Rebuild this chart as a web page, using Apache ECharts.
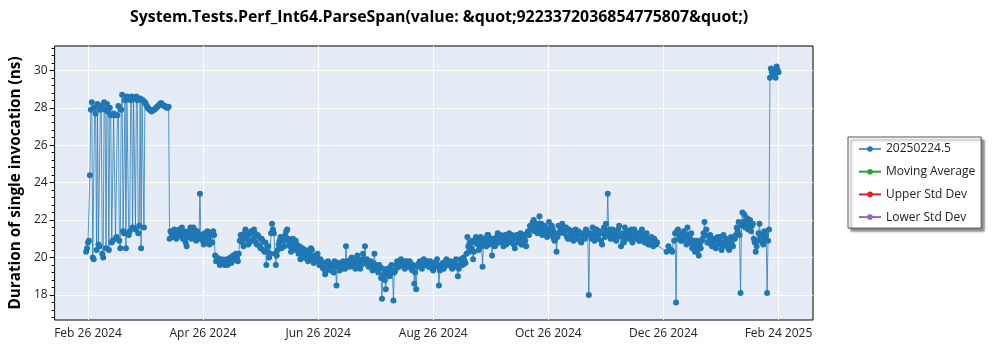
<!DOCTYPE html>
<html><head><meta charset="utf-8">
<script src="https://cdn.jsdelivr.net/npm/echarts@6/dist/echarts.min.js"></script>
<style>html,body{margin:0;padding:0;background:#fff}#c{width:1000px;height:350px}</style>
</head><body><div id="c"></div>
<script>
const titleText = 'System.Tests.Perf_Int64.ParseSpan(value: &quot;9223372036854775807&quot;)';
const yAxisTitle = 'Duration of single invocation (ns)';
const seriesNames = ['20250224.5', 'Moving Average', 'Upper Std Dev', 'Lower Std Dev'];
const seriesColors = ['#1f77b4', '#2ca02c', '#d62728', '#9467bd'];
// two runs per day; entry i of each list is the day 2024-02-25 + i (day -1 relative to Feb 26 2024)
const firstDayOffset = -1;
const durationsRunA = [
  20.3, 20.8, 24.4, 28.3, 19.9, 27.7, 28.2, 20.6, 28.1, 20.0, 27.9,
  28.2, 20.4, 27.6, 20.9, 27.6, 21.1, 28.1, 20.5, 28.7, 21.3,
  20.5, 28.5, 21.4, 28.6, 28.5, 21.5, 28.4, 21.7, 20.5, 28.4,
  28.3, 28.1, 27.95, 27.85, 27.85, 27.9, 28.0, 28.1, 28.2, 28.2, 28.1, 28.05, 28.0,
  21.0, 21.3, 21.2, 21.4, 21.1, 21.5, 21.3, 21.0, 21.2, 20.6, 21.4, 21.6, 21.2, 21.5, 20.9, 21.3, 23.4, 21.1, 20.7,
  20.8, 21.4, 20.7, 21.3, 21.4, 20.1,
  20.0, 19.9, 19.7, 19.8, 19.6, 19.9, 19.7, 20.0, 19.8, 20.1, 20.2, 19.8,
  20.9, 21.1, 20.6, 21.5, 21.2, 20.8, 21.4, 21.0, 21.3, 20.7, 21.1, 20.5, 20.9, 20.3,
  19.6, 20.6, 20.2, 21.8, 21.3, 19.6, 20.4, 20.9,
  20.5, 20.9, 21.2, 21.5, 20.8, 20.3, 21.0, 20.6,
  20.7, 20.2, 19.9, 20.5, 20.0, 20.3, 19.8, 20.1, 20.4, 19.7, 19.9, 20.2,
  19.6, 19.8, 19.4, 19.1, 19.5, 19.7, 19.3, 19.6, 19.8, 18.5, 19.5, 19.7, 19.4, 19.6,
  20.6, 19.8, 19.5, 20.0, 19.7, 19.4, 20.1, 19.8, 19.6, 20.2, 20.6, 19.9, 19.5, 19.8,
  19.3, 20.2, 19.6, 19.2, 19.5, 17.8, 19.1, 18.3, 19.4, 19.0, 19.6, 17.7, 19.3, 19.8,
  19.5, 19.9, 19.6, 19.4, 19.8, 19.5, 19.7, 19.3, 18.6, 18.3, 19.6, 19.8, 19.4, 19.9,
  19.6, 19.8, 19.5, 19.7, 19.3, 19.6, 19.9, 18.5, 19.4, 19.7, 19.5, 19.9, 19.6, 19.8,
  19.4, 19.7, 19.9, 19.0, 19.6, 19.8, 20.0, 19.7, 21.1, 20.3,
  20.5, 19.9, 20.8, 21.0, 20.4, 21.1, 19.5, 20.9, 20.6, 21.2, 20.8, 20.1, 21.0, 20.7, 21.3,
  20.9, 21.1, 20.6, 21.2, 20.9, 21.3, 20.8, 21.0, 20.5, 21.2, 20.9, 21.3, 20.7, 21.1, 20.6,
  21.4, 21.7, 21.5, 22.0, 21.6, 21.3, 22.2, 21.8, 21.4, 21.6, 21.1, 21.9, 21.2, 21.5, 20.9, 20.3, 21.7, 21.4,
  21.8, 21.3, 21.6, 21.0, 21.4, 21.2, 20.9, 21.5, 21.1, 21.3, 20.8, 21.2, 21.0, 21.4, 18.0, 21.2, 21.6, 20.9,
  21.5, 21.0, 21.3, 20.7, 21.6, 21.8, 23.4, 21.5, 21.2, 21.0, 21.4, 21.1, 21.7, 20.6, 21.3, 21.6, 21.0,
  21.4, 21.2, 20.8, 21.5, 21.1, 21.3, 20.9, 21.5, 21.2, 20.8, 21.0, 20.7, 21.1, 20.6, 20.9, 20.8,
  null, null, null, null, 20.3, 20.6, null, 20.3, 20.9, 17.6, 21.5,
  21.2, 20.9, 21.4, 21.1, 21.6, 20.8, 21.3, 20.6, 20.3, 20.9, 20.1, 20.5, 21.0, 21.9, 21.5,
  20.8, 21.2, 20.6, 21.0, 20.5, 21.1, 20.8, 20.4, 21.2, 20.7, 20.9, 20.4, 21.1, 20.6, 21.0,
  21.6, 21.9, 18.1, 22.4, 22.3, 21.8, 21.5, 22.0, 21.7, 21.0, 20.3,
  20.9, 21.8, 21.2, 20.7, 21.0, 18.1, 21.5,
  30.1, 29.7, 29.8, 30.2, 29.9
];
const durationsRunB = [
  20.5, 20.9, 27.9, 20.0, 28.0, 20.4, 20.7, 27.9, 20.2, 28.3, 20.5,
  27.8, 28.0, 20.8, 27.7, 21.0, 27.6, 20.9, 27.9, 21.4, 28.4,
  28.6, 21.2, 28.4, 21.6, 28.5, 28.6, 21.3, 28.5, 28.4, 21.6,
  28.2, 28.0, 27.9, 27.8, 27.9, 27.95, 28.05, 28.15, 28.25, 28.15, 28.1, 28.0, 28.05,
  21.4, 21.1, 21.5, 21.0, 21.3, 21.2, 21.6, 21.4, 20.8, 21.1, 21.3, 21.0, 21.6, 21.2, 21.4, 21.0, 21.2, 20.9, 21.3,
  21.1, 21.0, 21.2, 20.8, 21.2, 19.8,
  19.8, 19.6, 19.9, 19.7, 19.8, 19.6, 19.9, 19.7, 20.1, 19.9, 20.0, 20.2,
  21.2, 20.8, 21.3, 21.0, 20.7, 21.3, 20.9, 21.5, 20.8, 21.2, 20.6, 21.0, 20.4, 20.8,
  20.3, 20.0, 21.3, 21.5, 20.2, 20.1, 20.7, 21.1,
  21.0, 20.6, 21.4, 21.0, 20.6, 20.9, 20.4, 20.9,
  20.4, 20.6, 20.2, 20.1, 20.4, 19.9, 20.2, 20.5, 19.9, 20.1, 20.0, 19.8,
  19.9, 19.5, 19.7, 19.3, 19.8, 19.4, 19.6, 19.2, 19.5, 19.7, 19.3, 19.5, 19.8, 19.4,
  19.7, 19.6, 19.9, 19.6, 19.5, 19.9, 19.6, 19.4, 19.9, 19.7, 19.8, 19.6, 19.7, 19.5,
  19.7, 19.4, 19.3, 19.6, 18.9, 19.4, 18.8, 19.2, 19.1, 19.5, 19.3, 19.2, 19.6, 19.5,
  19.7, 19.6, 19.8, 19.5, 19.6, 19.8, 19.4, 19.6, 19.2, 19.5, 19.7, 19.5, 19.8, 19.6,
  19.8, 19.5, 19.8, 19.4, 19.7, 19.5, 19.6, 19.3, 19.6, 19.4, 19.8, 19.6, 19.7, 19.5,
  19.7, 19.5, 19.6, 19.4, 19.9, 19.6, 19.8, 20.2, 20.6, 20.8,
  20.9, 20.3, 21.1, 20.7, 20.9, 20.6, 20.8, 21.0, 21.2, 20.7, 21.0, 20.9, 20.6, 21.1, 20.8,
  21.2, 20.8, 21.0, 20.7, 21.1, 20.9, 21.2, 20.7, 21.1, 20.8, 21.0, 20.7, 21.2, 20.9, 21.3,
  21.2, 21.5, 21.9, 21.4, 21.8, 21.6, 21.5, 21.2, 21.7, 21.3, 21.5, 21.3, 21.7, 21.0, 21.3, 21.1, 21.3, 21.6,
  21.4, 21.6, 21.1, 21.5, 21.0, 21.4, 21.3, 21.0, 21.4, 20.9, 21.3, 21.1, 21.5, 21.2, 21.3, 21.0, 21.3, 21.5,
  21.2, 21.4, 20.9, 21.3, 21.1, 21.4, 21.2, 21.0, 21.5, 21.3, 20.9, 21.5, 21.2, 21.1, 20.8, 21.2, 21.4,
  21.0, 21.5, 21.2, 21.0, 21.3, 20.9, 21.2, 21.0, 20.8, 21.3, 20.7, 21.0, 20.8, 21.0, 20.7, null,
  null, null, null, null, null, null, 20.4, null, 21.3, 21.4, 21.0,
  20.9, 21.3, 21.0, 20.7, 21.2, 21.0, 20.5, 20.9, 20.6, 20.4, 20.7, 20.9, 21.3, 21.2, 20.8,
  21.1, 20.7, 20.9, 20.6, 20.9, 20.7, 21.1, 20.6, 20.8, 21.0, 20.5, 20.8, 20.7, 21.0, 21.2,
  21.4, 21.2, 21.7, 21.9, 21.6, 22.1, 21.7, 21.4, 21.8, 20.8, 20.6,
  21.3, 21.1, 20.8, 21.4, 21.2, 20.9, 29.6,
  29.9, 30.0, 29.6, 30.0, null
];
const xTickLabels = ['Feb 26 2024', 'Apr 26 2024', 'Jun 26 2024', 'Aug 26 2024', 'Oct 26 2024', 'Dec 26 2024', 'Feb 24 2025'];
const xTickDays = [0, 60.667, 121.333, 182, 242.667, 303.333, 364];
const yTickValues = [18, 20, 22, 24, 26, 28, 30];
const yMinorTickValues = [16.8, 17.2, 17.6, 18.4, 18.8, 19.2, 19.6, 20.4, 20.8, 21.2, 21.6, 22.4, 22.8, 23.2, 23.6, 24.4, 24.8, 25.2, 25.6, 26.4, 26.8, 27.2, 27.6, 28.4, 28.8, 29.2, 29.6, 30.4, 30.8, 31.2];

const mainData = [];
durationsRunA.forEach((v, i) => {
  if (v != null) mainData.push([i + firstDayOffset, v]);
  const w = durationsRunB[i];
  if (w != null) mainData.push([i + firstDayOffset + 0.5, w]);
});
const FONT = 'Open Sans';

const chart = echarts.init(document.getElementById('c'));
chart.setOption({
  animation: false,
  textStyle: { fontFamily: FONT },
  title: {
    text: titleText, left: 130, top: 9, padding: 0,
    textStyle: { fontSize: 15.9, fontWeight: 'bold', color: '#000', fontFamily: FONT }
  },
  grid: {
    left: 49, right: 187, top: 46, bottom: 30, show: true,
    backgroundColor: '#e5ecf6', borderColor: '#000', borderWidth: 1
  },
  legend: {
    orient: 'vertical', left: 848, top: 137,
    data: seriesNames,
    backgroundColor: '#fff', borderColor: '#555', borderWidth: 1,
    shadowColor: 'rgba(0,0,0,0.45)', shadowOffsetX: 3, shadowOffsetY: 3, shadowBlur: 2,
    padding: [5, 6, 4, 10], itemGap: 8.7, itemWidth: 22, itemHeight: 7,
    textStyle: { fontSize: 12, lineHeight: 14, color: '#222', fontFamily: FONT }
  },
  xAxis: {
    type: 'value', min: -17.6, max: 382.2,
    axisLine: { show: false, onZero: false },
    axisTick: { show: false, customValues: xTickDays },
    axisLabel: {
      customValues: xTickDays, fontSize: 12, color: '#222', margin: 8,
      formatter: (val) => {
        let best = 0;
        xTickDays.forEach((d, k) => { if (Math.abs(d - val) < Math.abs(xTickDays[best] - val)) best = k; });
        return xTickLabels[best];
      }
    },
    splitLine: { show: true, lineStyle: { color: '#fff', width: 1 } }
  },
  yAxis: [{
    type: 'value', min: 16.66, max: 31.3, position: 'left',
    name: yAxisTitle, nameLocation: 'middle', nameGap: 30,
    nameTextStyle: { fontSize: 15.3, fontWeight: 'bold', color: '#000', fontFamily: FONT },
    axisLine: { show: false, onZero: false },
    axisTick: { show: true, customValues: yTickValues, length: 5, lineStyle: { color: '#000' } },
    axisLabel: { customValues: yTickValues, fontSize: 12, color: '#222', margin: 7 },
    splitLine: { show: true, lineStyle: { color: '#fff', width: 1 } }
  }, {
    type: 'value', min: 16.66, max: 31.3, position: 'left',
    axisLine: { show: false, onZero: false },
    axisTick: { show: true, customValues: yMinorTickValues, length: 3, lineStyle: { color: '#000' } },
    axisLabel: { show: false },
    splitLine: { show: false }
  }],
  series: [
    {
      name: seriesNames[0], type: 'line', data: mainData, connectNulls: true,
      color: seriesColors[0], symbol: 'circle', symbolSize: 6, showSymbol: true,
      lineStyle: { width: 1, opacity: 0.75 }, itemStyle: { color: seriesColors[0] }
    },
    { name: seriesNames[1], type: 'line', data: [], color: seriesColors[1], symbol: 'circle', symbolSize: 6, lineStyle: { width: 1 } },
    { name: seriesNames[2], type: 'line', data: [], color: seriesColors[2], symbol: 'circle', symbolSize: 6, lineStyle: { width: 1 } },
    { name: seriesNames[3], type: 'line', data: [], color: seriesColors[3], symbol: 'circle', symbolSize: 6, lineStyle: { width: 1 } }
  ]
});
</script>
</body></html>
